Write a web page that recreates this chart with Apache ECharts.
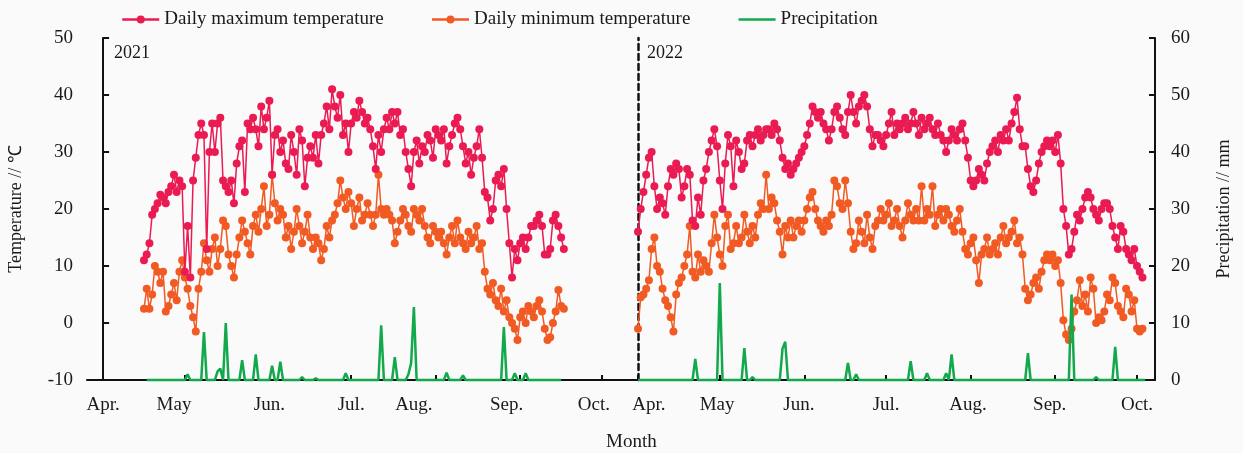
<!DOCTYPE html>
<html>
<head>
<meta charset="utf-8">
<script src="https://cdn.jsdelivr.net/npm/echarts@6/dist/echarts.min.js"></script>
<style>
html,body{margin:0;padding:0;background:#fafafa;}
#chart{width:1243px;height:453px;}
</style>
</head>
<body>
<div id="chart"></div>
<script>
// ---- Data (day index: 0 = 1 April) ----
const monthNames = ['Apr.', 'May', 'Jun.', 'Jul.', 'Aug.', 'Sep.', 'Oct.'];
const monthTickDays = [0, 30, 61, 91, 122, 153, 183];
const monthLabelDays2021 = [0, 26, 61, 91, 114, 148, 180];
const monthLabelDays2022 = [4, 29, 59, 91, 121, 151, 183];
const tempTicks = [-10, 0, 10, 20, 30, 40, 50];
const precipTicks = [0, 10, 20, 30, 40, 50, 60];

const startDay2021 = 15;
const maxTemp2021 = [
  11, 12, 14, 19, 20, 21, 22.5, 22, 21, 23,
  24, 26, 23, 25, 24, 9, 17, 8, 25, 29,
  33, 35, 33, 13, 30, 35, 30, 35, 36, 25,
  24, 23, 25, 21, 28, 31, 32, 23, 35, 34,
  36, 34, 31, 38, 34, 36, 39, 26, 33, 34,
  30, 32, 28, 27, 33, 30, 26, 34, 32, 24,
  29, 31, 29, 33, 28, 33, 35, 38, 34, 41,
  38, 36, 40, 33, 35, 30, 35, 37, 36, 39,
  37, 35, 36, 34, 31, 27, 33, 30, 34, 36,
  34, 37, 35, 37, 33, 34, 30, 27, 24, 30,
  32, 28, 31, 30, 33, 32, 29, 34, 33, 32,
  34, 28, 31, 33, 35, 36, 34, 31, 28, 30,
  26, 29, 31, 34, 29, 23, 22, 18, 20, 25,
  26, 24, 27, 20, 14, 8, 13, 11, 14, 15,
  13, 15, 17, 17, 18, 19, 17, 12, 12, 13,
  18, 19, 17, 15, 13
];
const minTemp2021 = [
  2.5, 6, 2.5, 5, 10, 9, 7, 9, 2, 3,
  5, 7, 4, 9, 11, 8, 6, 3, 1, -1.5,
  6, 9, 14, 11, 9, 13, 15, 10, 13, 18,
  17, 12, 10, 8, 12, 15, 18, 16, 14, 12,
  17, 19, 16, 20, 24, 17, 19, 26, 21, 18,
  20, 19, 15, 17, 13, 16, 20, 17, 14, 16,
  19, 15, 13, 15, 14, 11, 13, 17, 15, 18,
  19, 21, 25, 22, 20, 23, 21, 17, 20, 22,
  18, 19, 21, 19, 17, 19, 26, 20, 19, 20,
  19, 18, 14, 16, 18, 20, 19, 17, 16, 20,
  19, 18, 20, 17, 15, 14, 17, 16, 15, 16,
  14, 12, 15, 17, 14, 18, 15, 14, 13, 16,
  14, 15, 17, 13, 14, 9, 6, 5, 7, 4,
  3, 6, 2, 4, 1, 0, -1, -3, 1, 2,
  0, 3, 2, 1, 3, 4, 2, -1, -3, -2.5,
  0, 2, 5.8, 3, 2.5
];
const precipSpan2021 = [16, 168];
const rainDays2021 = [31, 37, 42, 43, 45, 51, 56, 62, 65, 73, 78, 89, 102, 107, 112, 113, 114, 126, 132, 147, 151, 155];
const rainMm2021 = [1, 8.4, 1.5, 2, 10, 3.5, 4.5, 2.5, 3.2, 0.5, 0.3, 1.2, 9.6, 4, 1, 3, 12.8, 1.3, 0.8, 9.3, 1.2, 1.2];

const startDay2022 = 0;
const maxTemp2022 = [
  16, 20, 23, 26, 29, 30, 24, 20, 22, 21,
  19, 24, 27, 26, 28, 27, 22, 24, 27, 26,
  18, 17, 22, 19, 25, 27, 30, 32, 34, 31,
  25, 20, 28, 33, 31, 24, 32, 30, 27, 28,
  32, 33, 31, 33, 34, 32, 33, 34, 34, 33,
  35, 34, 32, 29, 27, 28, 26, 27, 28, 29,
  30, 31, 33, 35, 38, 37, 36, 37, 35, 34,
  32, 34, 37, 38, 36, 34, 33, 37, 40, 37,
  35, 38, 39, 40, 38, 34, 31, 33, 33, 32,
  31, 33, 35, 37, 33, 35, 34, 35, 36, 34,
  35, 37, 35, 33, 36, 34, 35, 36, 34, 33,
  35, 33, 32, 30, 32, 34, 33, 32, 34, 35,
  32, 29, 25, 24, 25, 27, 26, 25, 28, 30,
  31, 32, 30, 33, 32, 34, 32, 35, 37, 39.5,
  34, 31, 31, 27, 24, 23, 25, 28, 30, 31,
  32, 31, 32, 30, 33, 28, 20, 17, 12, 13,
  16, 19, 18, 20, 22, 23, 22, 20, 19, 18,
  20, 21, 21, 20, 17, 15, 13, 17, 16, 13,
  12, 11, 13, 10, 9, 8
];
const minTemp2022 = [
  -1, 4.5, 5, 6, 7.5, 13, 15, 10, 9, 6,
  4, 3, 1, -1.5, 5, 7, 8, 10, 12, 17,
  9, 8, 12, 9, 11, 10, 9, 14, 19, 15,
  12, 10, 17, 19, 13, 14, 17, 14, 15, 19,
  16, 14, 17, 15, 19, 21, 20, 26, 20, 22,
  21, 18, 16, 12, 17, 15, 18, 15, 17, 18,
  16, 18, 20, 22, 23, 20, 18, 17, 16, 18,
  17, 19, 25, 24, 21, 20, 25, 21, 16, 13,
  14, 18, 16, 14, 19, 15, 13, 17, 18, 20,
  18, 19, 21, 17, 18, 20, 17, 15, 18, 21,
  19, 18, 20, 18, 24, 18, 20, 19, 24, 17,
  19, 20, 18, 20, 19, 17, 16, 18, 20, 16,
  13, 12, 14, 15, 11, 7, 12, 13, 15, 12,
  13, 14, 12, 15, 17, 14, 15, 16, 18, 14,
  15, 12, 6, 4, 5, 7, 8, 6, 9, 11,
  12, 11, 12, 10, 11, 7, 0.5, -2, -3, -1,
  2, 4, 7.5, 3, 5, 2, 8, 6, 0, 1,
  0.5, 2, 5, 4, 8, 7, 3, 2, 1, 6,
  5, 2, 4, -1, -1.5, -1
];
const precipSpan2022 = [0, 186];
const rainDays2022 = [21, 30, 39, 42, 53, 54, 77, 80, 100, 106, 113, 115, 143, 159, 168, 175];
const rainMm2022 = [3.7, 17, 5.6, 0.5, 5.5, 6.7, 3, 1, 3.3, 1.2, 1.2, 4.5, 4.7, 15, 0.5, 5.8];

// ---- Build series data ----
function daily(start, vals) { return vals.map((v, i) => [start + i, v]); }
function rainSeries(span, days, mm) {
  const out = [];
  for (let d = span[0]; d <= span[1]; d++) {
    const k = days.indexOf(d);
    out.push([d, k >= 0 ? mm[k] : 0]);
  }
  return out;
}

const C_MAX = '#ea1a52', C_MIN = '#f15a22', C_PRE = '#12a84c';
const FONT = 'Liberation Serif';
const TXT = '#1a1a1a';

function xAxisDef(gridIndex, min, max, labelDays) {
  return {
    type: 'value', gridIndex, min, max,
    axisLine: { show: true, onZero: false, lineStyle: { color: '#111', width: 2 } },
    axisTick: { show: true, inside: true, length: 5, customValues: monthTickDays, lineStyle: { color: '#111', width: 2 } },
    axisLabel: {
      customValues: labelDays, margin: 16, color: TXT, fontFamily: FONT, fontSize: 19,
      formatter: v => { const k = labelDays.indexOf(v); return k >= 0 ? monthNames[k] : ''; }
    },
    splitLine: { show: false }
  };
}

const lineCommon = { type: 'line', symbol: 'circle', symbolSize: 8, clip: false, animation: false };

const option = {
  backgroundColor: '#fafafa',
  animation: false,
  textStyle: { fontFamily: FONT },
  legend: {
    left: 116, top: 5, itemWidth: 37, itemHeight: 10, itemGap: 47,
    data: [
      'Daily maximum temperature',
      'Daily minimum temperature',
      { name: 'Precipitation', itemStyle: { color: 'rgba(0,0,0,0)', borderWidth: 0 } }
    ],
    textStyle: { fontFamily: FONT, fontSize: 19, color: TXT },
    lineStyle: { width: 2.5 }
  },
  title: [
    { text: '2021', left: 109, top: 39, textStyle: { fontFamily: FONT, fontSize: 18, fontWeight: 'normal', color: TXT } },
    { text: '2022', left: 642, top: 39, textStyle: { fontFamily: FONT, fontSize: 18, fontWeight: 'normal', color: TXT } },
    { text: 'Month', left: 601, top: 428, textStyle: { fontFamily: FONT, fontSize: 19, fontWeight: 'normal', color: TXT } }
  ],
  grid: [
    { left: 87, top: 38, width: 533, height: 342 },
    { left: 620, top: 38, width: 535, height: 342 }
  ],
  xAxis: [
    xAxisDef(0, -5.9, 189.6, monthLabelDays2021),
    xAxisDef(1, -6.6, 189.6, monthLabelDays2022)
  ],
  yAxis: [
    {
      type: 'value', gridIndex: 0, position: 'left', min: -10, max: 50, interval: 10,
      name: 'Temperature // ℃', nameLocation: 'middle', nameGap: 62, nameRotate: 90,
      nameTextStyle: { fontFamily: FONT, fontSize: 18, color: TXT },
      axisLine: { show: true, lineStyle: { color: '#111', width: 2 } },
      axisTick: { show: true, inside: true, length: 6, lineStyle: { color: '#111', width: 2 } },
      axisLabel: { margin: 14, color: TXT, fontFamily: FONT, fontSize: 19 },
      splitLine: { show: false }
    },
    { type: 'value', gridIndex: 0, position: 'right', min: 0, max: 60, show: false },
    {
      type: 'value', gridIndex: 1, position: 'left', min: -10, max: 50, interval: 10,
      axisLine: { show: true, lineStyle: { color: '#111', width: 2.5, type: [6, 4] } },
      axisTick: { show: false }, axisLabel: { show: false }, splitLine: { show: false }
    },
    {
      type: 'value', gridIndex: 1, position: 'right', min: 0, max: 60, interval: 10,
      name: 'Precipitation // mm', nameLocation: 'middle', nameGap: 60, nameRotate: 90,
      nameTextStyle: { fontFamily: FONT, fontSize: 18, color: TXT },
      axisLine: { show: true, lineStyle: { color: '#111', width: 2 } },
      axisTick: { show: true, inside: true, length: 6, lineStyle: { color: '#111', width: 2 } },
      axisLabel: { margin: 16, color: TXT, fontFamily: FONT, fontSize: 19 },
      splitLine: { show: false }
    }
  ],
  series: [
    Object.assign({}, lineCommon, { name: 'Daily minimum temperature', xAxisIndex: 0, yAxisIndex: 0, z: 2,
      data: daily(startDay2021, minTemp2021), itemStyle: { color: C_MIN }, lineStyle: { color: C_MIN, width: 1.5 } }),
    Object.assign({}, lineCommon, { name: 'Daily maximum temperature', xAxisIndex: 0, yAxisIndex: 0, z: 3,
      data: daily(startDay2021, maxTemp2021), itemStyle: { color: C_MAX }, lineStyle: { color: C_MAX, width: 1.5 } }),
    { type: 'line', name: 'Precipitation', xAxisIndex: 0, yAxisIndex: 1, z: 4, symbol: 'none', clip: false,
      data: rainSeries(precipSpan2021, rainDays2021, rainMm2021), itemStyle: { color: C_PRE }, lineStyle: { color: C_PRE, width: 2.5 } },
    Object.assign({}, lineCommon, { name: 'Daily minimum temperature', xAxisIndex: 1, yAxisIndex: 2, z: 2,
      data: daily(startDay2022, minTemp2022), itemStyle: { color: C_MIN }, lineStyle: { color: C_MIN, width: 1.5 } }),
    Object.assign({}, lineCommon, { name: 'Daily maximum temperature', xAxisIndex: 1, yAxisIndex: 2, z: 3,
      data: daily(startDay2022, maxTemp2022), itemStyle: { color: C_MAX }, lineStyle: { color: C_MAX, width: 1.5 } }),
    { type: 'line', name: 'Precipitation', xAxisIndex: 1, yAxisIndex: 3, z: 4, symbol: 'none', clip: false,
      data: rainSeries(precipSpan2022, rainDays2022, rainMm2022), itemStyle: { color: C_PRE }, lineStyle: { color: C_PRE, width: 2.5 } }
  ]
};

const chart = echarts.init(document.getElementById('chart'), null, { renderer: 'canvas' });
chart.setOption(option);
</script>
</body>
</html>
